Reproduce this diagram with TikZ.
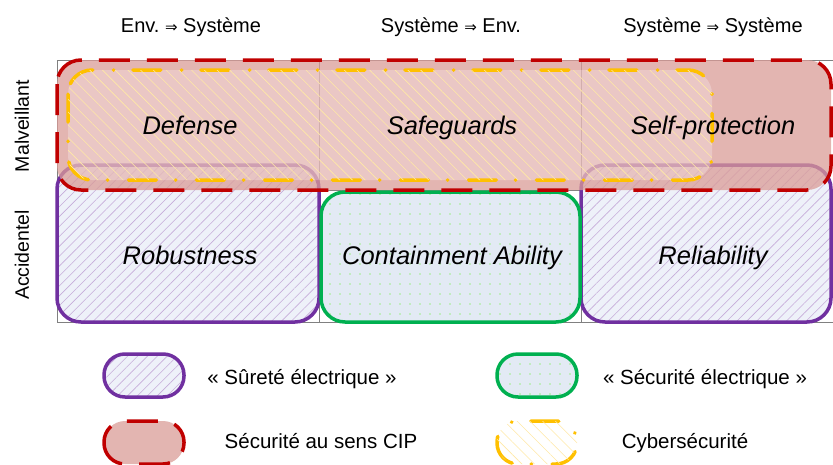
\documentclass[tikz,border=0pt]{standalone}
\usepackage{fontspec}
\setmainfont{Liberation Sans}
\newfontfamily\arrowfont{DejaVu Sans}
\usetikzlibrary{patterns.meta}
\definecolor{surviolet}{HTML}{7030A0}
\definecolor{secgreen}{HTML}{00B050}
\definecolor{cipred}{HTML}{C00000}
\definecolor{cyberyellow}{HTML}{FFC000}
\definecolor{cipfill}{RGB}{218,156,151}
\definecolor{surfill}{HTML}{EEF1F9}
\definecolor{secfill}{HTML}{E3EAF4}
\definecolor{secdots}{RGB}{160,240,140}
\newcommand{\implies}{{\arrowfont\fontsize{15}{15}\selectfont ⇒}}

\begin{document}
\begin{tikzpicture}[x=1pt, y=-1pt,
    gridline/.style={draw=gray, line width=0.7pt},
    surete/.style={
        fill=surfill,
        postaction={pattern={Lines[angle=45,distance=7pt,line width=0.6pt]}, pattern color=surviolet!40},
        postaction={draw=surviolet, line width=3.5pt},
        rounded corners=24pt
    },
    securite/.style={
        fill=secfill,
        postaction={pattern={Dots[distance=10pt,radius=0.9pt]}, pattern color=secdots},
        postaction={draw=secgreen, line width=3.5pt},
        rounded corners=24pt
    },
    cip/.style={
        draw=cipred,
        line width=3.5pt,
        dash pattern=on 31pt off 17pt,
        rounded corners=24pt,
        fill=cipfill,
        fill opacity=0.75,
        draw opacity=1
    },
    cyber/.style={
        draw=cyberyellow,
        line width=3.5pt,
        line cap=round,
        dash pattern=on 28pt off 19pt on 0.5pt off 20.5pt,
        rounded corners=24pt,
        fill=white,
        fill opacity=0.25,
        draw opacity=1,
        postaction={pattern={Lines[angle=-45,distance=9pt,line width=0.6pt]}, pattern color=cyberyellow!35}
    },
    header/.style={font=\fontsize{20}{22}\selectfont, anchor=base},
    rowlabel/.style={font=\fontsize{19.5}{22}\selectfont, rotate=90},
    cell/.style={font=\fontsize{25.5}{28}\selectfont\itshape, anchor=base},
    legend/.style={font=\fontsize{20.5}{22}\selectfont, anchor=base}
]
    \useasboundingbox (0,0) rectangle (833,464);

    % grid
    \draw[gridline] (57,60) rectangle (833,322);
    \draw[gridline] (57,190) -- (833,190);
    \draw[gridline] (319,60) -- (319,322);
    \draw[gridline] (581,60) -- (581,322);

    % zones
    \path[surete] (57,165) rectangle (319,322);
    \path[surete] (581,165) rectangle (831,322);
    \path[securite] (321,192) rectangle (580,322);
    \path[cip] (57,60) rectangle (831,190);
    \path[cyber] (68,70) rectangle (712,180);

    % headers
    \node[header] (envsys) at (191,32) {Env.~\implies~Système};
    \node[header] (sysenv) at (451,32) {Système~\implies~Env.};
    \node[header] (syssys) at (713,32) {Système~\implies~Système};
    \node[rowlabel] (malv) at (22,126) {Malveillant};
    \node[rowlabel] (accid) at (22,255) {Accidentel};

    % cells
    \node[cell] (defense) at (190,134) {Defense};
    \node[cell] (safeguards) at (452,134) {Safeguards};
    \node[cell] (selfprot) at (713,134) {Self-protection};
    \node[cell] (robust) at (190,264) {Robustness};
    \node[cell] (contain) at (452,264) {Containment Ability};
    \node[cell] (reliab) at (713,264) {Reliability};

    % legend
    \path[surete, rounded corners=21pt] (104,354) rectangle (184,397);
    \path[securite, rounded corners=21pt] (497,354) rectangle (577,397);
    \path[cip, rounded corners=21pt] (104,421) rectangle (184,464);
    \path[cyber, rounded corners=21pt] (497,421) rectangle (577,464);
    \node[legend] (surlabel) at (302,384) {« Sûreté électrique »};
    \node[legend] (seclabel) at (705,384) {« Sécurité électrique »};
    \node[legend] (ciplabel) at (321,448) {Sécurité au sens CIP};
    \node[legend] (cyblabel) at (685,448) {Cybersécurité};

\end{tikzpicture}
\end{document}
